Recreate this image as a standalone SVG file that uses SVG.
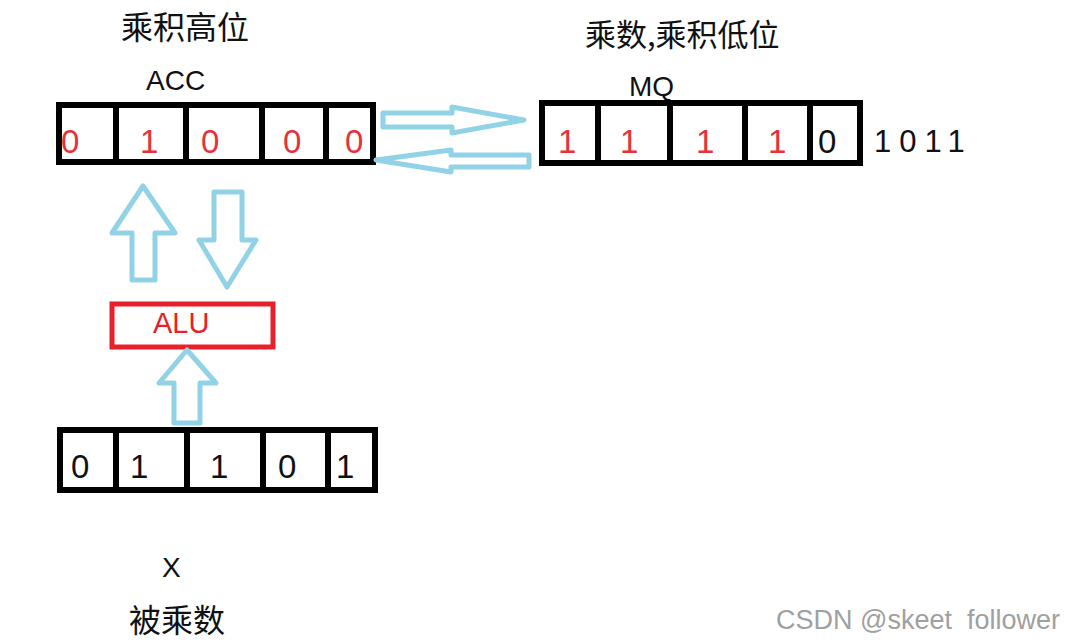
<svg xmlns="http://www.w3.org/2000/svg" width="1075" height="644" viewBox="0 0 1075 644">
<style>
.reg{fill:#fff;stroke:#000;stroke-width:6}
.div{stroke:#000;stroke-width:6}
.arr{fill:#fff;stroke:#92d2e6;stroke-width:5;stroke-linejoin:round}
.cn{font-family:"Noto Sans CJK SC","Liberation Sans",sans-serif;font-size:32px;fill:#111}
.lat{font-family:"Liberation Sans","Noto Sans",sans-serif;fill:#111}
.dr{font-family:"Liberation Sans",sans-serif;font-size:33px;fill:#e8303a}
.dk{font-family:"Liberation Sans",sans-serif;font-size:33px;fill:#111}
</style>
<rect width="1075" height="644" fill="#fff"/>

<g id="labels">
<text class="cn" x="121" y="39">乘积高位</text>
<text class="lat" x="146" y="90" font-size="28">ACC</text>
<text class="cn" x="585" y="46" font-size="31" style="font-size:31px">乘数,乘积低位</text>
<text class="lat" x="629" y="96" font-size="28">MQ</text>
<text class="lat" x="162" y="577" font-size="28">X</text>
<text class="cn" x="129" y="632">被乘数</text>
</g>

<g id="acc">
<rect class="reg" x="59" y="105" width="314" height="57"/>
<line class="div" x1="116" y1="105" x2="116" y2="162"/>
<line class="div" x1="186" y1="105" x2="186" y2="162"/>
<line class="div" x1="262" y1="105" x2="262" y2="162"/>
<line class="div" x1="326" y1="105" x2="326" y2="162"/>
<text class="dr" x="61" y="153">0</text>
<text class="dr" x="140" y="153">1</text>
<text class="dr" x="201" y="153">0</text>
<text class="dr" x="283" y="153">0</text>
<text class="dr" x="345" y="153">0</text>
</g>

<g id="mq">
<rect class="reg" x="542" y="103" width="318" height="60"/>
<line class="div" x1="598" y1="103" x2="598" y2="163"/>
<line class="div" x1="670" y1="103" x2="670" y2="163"/>
<line class="div" x1="745" y1="103" x2="745" y2="163"/>
<line class="div" x1="810" y1="103" x2="810" y2="163"/>
<text class="dr" x="558" y="153">1</text>
<text class="dr" x="620" y="153">1</text>
<text class="dr" x="696" y="153">1</text>
<text class="dr" x="768" y="153">1</text>
<text class="dk" x="818" y="153">0</text>
<text class="lat" x="874" y="152" font-size="31" letter-spacing="8">1011</text>
</g>

<g id="alu">
<rect x="112" y="304" width="161" height="43" fill="#fff" stroke="#e8202a" stroke-width="5"/>
<text x="153" y="333" font-family="Liberation Sans,sans-serif" font-size="29" fill="#e8202a">ALU</text>
</g>

<g id="x-reg">
<rect class="reg" x="60" y="430" width="315" height="60"/>
<line class="div" x1="116" y1="430" x2="116" y2="492"/>
<line class="div" x1="187" y1="430" x2="187" y2="490"/>
<line class="div" x1="263" y1="430" x2="263" y2="490"/>
<line class="div" x1="328" y1="430" x2="328" y2="490"/>
<text class="dk" x="71" y="478">0</text>
<text class="dk" x="130" y="478">1</text>
<text class="dk" x="210" y="478">1</text>
<text class="dk" x="278" y="478">0</text>
<text class="dk" x="336" y="478">1</text>
</g>

<g id="connectors">
<polygon class="arr" points="383,113 452,113 452,107 524,120 452,133 452,127 383,127"/>
<polygon class="arr" points="529,155 451,155 451,150 376,160 451,172 451,167 529,167"/>
<polygon class="arr" points="132,280 132,233 112,233 143,186 175,233 155,233 155,280"/>
<polygon class="arr" points="214,192 242,192 242,240 256,240 227,287 199,240 214,240"/>
<polygon class="arr" points="174,423 174,383 159,383 187,350 216,383 200,383 200,423"/>
</g>

<text x="776" y="629" font-family="Liberation Sans,sans-serif" font-size="27" fill="#a0a0a0" xml:space="preserve">CSDN @skeet  follower</text>
</svg>
